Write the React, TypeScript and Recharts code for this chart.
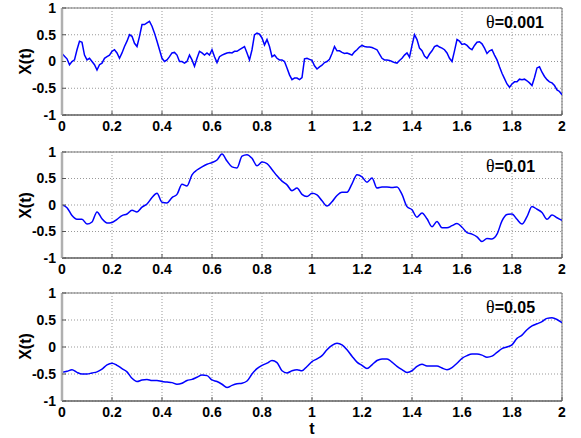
import React from 'react';
import { LineChart, Line, XAxis, YAxis, CartesianGrid, ReferenceArea, Label, Customized } from 'recharts';

// time ticks and value ticks shared by all three panels
const tTicks = [0, 0.2, 0.4, 0.6, 0.8, 1, 1.2, 1.4, 1.6, 1.8, 2];
const xTicks = [-1, -0.5, 0, 0.5, 1];
const thetaLabels = ['0.001', '0.01', '0.05'];

const path001 = [
  0.15, 0.1, 0.05, -0.06, 0, 0.03, 0.22, 0.38, 0.36, 0.12,
  0.03, 0.06, 0, -0.06, -0.16, -0.06, -0.03, 0.06, 0.09, 0.12,
  0.19, 0.22, 0.16, 0.06, 0.16, 0.28, 0.38, 0.5, 0.47, 0.34,
  0.28, 0.47, 0.69, 0.69, 0.72, 0.75, 0.66, 0.53, 0.38, 0.22,
  0.06, 0, 0.03, 0.09, 0.16, 0.17, 0.12, 0, 0, -0.03,
  0, 0.12, 0.03, -0.09, 0.06, 0.19, 0.16, 0.12, 0.16, 0.12,
  0.22, 0.09, -0.02, 0.09, 0.12, 0.14, 0.16, 0.17, 0.16, 0.19,
  0.19, 0.22, 0.25, 0.28, 0.16, 0.03, 0.22, 0.5, 0.53, 0.51,
  0.44, 0.31, 0.41, 0.28, 0.09, 0.12, 0.06, 0.03, 0.03, 0,
  -0.12, -0.25, -0.34, -0.31, -0.31, -0.34, -0.3, 0.05, 0.06, 0.04,
  0.02, -0.08, -0.14, -0.1, -0.07, -0.02, 0, 0.04, 0.15, 0.28,
  0.2, 0.2, 0.17, 0.15, 0.16, 0.14, 0.12, 0.18, 0.22, 0.27,
  0.3, 0.28, 0.27, 0.27, 0.26, 0.24, 0.22, 0.14, 0.06, 0.03,
  0.03, 0.02, 0, -0.02, -0.03, 0.02, 0.06, 0.12, 0.16, 0.08,
  0.3, 0.5, 0.41, 0.25, 0.2, 0.1, 0.06, 0.14, 0.2, 0.28,
  0.3, 0.27, 0.25, 0.22, 0.16, 0.06, 0, 0.2, 0.41, 0.38,
  0.32, 0.33, 0.3, 0.25, 0.22, 0.3, 0.36, 0.37, 0.33, 0.25,
  0.15, 0.2, 0.22, 0.12, 0.03, -0.1, -0.22, -0.32, -0.42, -0.48,
  -0.42, -0.38, -0.38, -0.33, -0.34, -0.33, -0.36, -0.4, -0.45, -0.3,
  -0.12, -0.1, -0.2, -0.28, -0.34, -0.38, -0.4, -0.45, -0.53, -0.56,
  -0.62,
];

// theta = 0.01, sampled every 0.02
const path01 = [
  0, -0.05, -0.2, -0.27, -0.27, -0.36, -0.32, -0.13, -0.26, -0.34,
  -0.33, -0.27, -0.2, -0.17, -0.1, -0.13, -0.04, 0.02, 0.14, 0.22,
  0.05, 0.04, 0.14, 0.2, 0.39, 0.36, 0.57, 0.66, 0.72, 0.77,
  0.8, 0.85, 0.96, 0.83, 0.72, 0.7, 0.92, 0.95, 0.88, 0.74,
  0.81, 0.78, 0.67, 0.55, 0.45, 0.38, 0.27, 0.32, 0.2, 0.16,
  0.22, 0.19, 0.08, -0.02, 0.06, 0.18, 0.24, 0.24, 0.4, 0.57,
  0.53, 0.43, 0.51, 0.32, 0.34, 0.34, 0.33, 0.34, 0.2, -0.03,
  -0.09, -0.23, -0.15, -0.26, -0.41, -0.31, -0.43, -0.43, -0.39, -0.35,
  -0.42, -0.52, -0.55, -0.6, -0.69, -0.63, -0.64, -0.55, -0.3, -0.18,
  -0.17, -0.27, -0.36, -0.22, -0.03, -0.08, -0.14, -0.27, -0.19, -0.24,
  -0.29,
];

// theta = 0.05, sampled every 0.02
const path05 = [
  -0.47, -0.45, -0.42, -0.47, -0.5, -0.5, -0.48, -0.46, -0.41, -0.33,
  -0.3, -0.34, -0.4, -0.46, -0.58, -0.64, -0.61, -0.6, -0.62, -0.62,
  -0.64, -0.65, -0.66, -0.69, -0.67, -0.62, -0.6, -0.56, -0.52, -0.53,
  -0.61, -0.64, -0.69, -0.75, -0.71, -0.68, -0.67, -0.63, -0.5, -0.4,
  -0.34, -0.3, -0.25, -0.29, -0.44, -0.48, -0.44, -0.42, -0.44, -0.36,
  -0.27, -0.22, -0.16, -0.05, 0.03, 0.07, 0.04, -0.05, -0.17, -0.28,
  -0.34, -0.4, -0.33, -0.25, -0.22, -0.22, -0.28, -0.36, -0.42, -0.47,
  -0.44, -0.36, -0.32, -0.35, -0.35, -0.35, -0.39, -0.42, -0.38, -0.3,
  -0.21, -0.16, -0.13, -0.13, -0.15, -0.19, -0.17, -0.1, -0.03, 0.0,
  0.04, 0.16, 0.22, 0.32, 0.39, 0.43, 0.47, 0.53, 0.54, 0.51,
  0.45,
];

const FONT = '"Liberation Sans", Arial, Helvetica, sans-serif';
const W = 581;
const PLOT_LEFT = 62;
const PLOT_H = 107;

const toRows = (vals: number[], step: number) =>
  vals.map((x, i) => ({ t: Math.round(i * step * 1000) / 1000, x }));

type PanelProps = {
  values: number[];
  step: number;
  theta: string;
  top: number;
  height: number;
  marginTop: number;
  xAxisHeight: number;
  smooth: boolean;
  showT?: boolean;
};

function Panel({ values, step, theta, top, height, marginTop, xAxisHeight, smooth, showT }: PanelProps) {
  const data = toRows(values, step);
  const tickStyle = { fill: '#000', fontSize: 14, fontWeight: 'bold', fontFamily: FONT };
  const midY = marginTop + PLOT_H / 2;

  return (
    <div style={{ position: 'absolute', left: 0, top, width: W, height }}>
      <LineChart width={W} height={height} data={data}
        margin={{ top: marginTop, right: 19, bottom: 0, left: 0 }}>
        <CartesianGrid stroke="#999" strokeDasharray="1 2" />
        <XAxis dataKey="t" type="number" domain={[0, 2]} ticks={tTicks} interval={0}
          allowDataOverflow height={xAxisHeight} tickSize={-4} tickMargin={10}
          axisLine={{ stroke: '#555' }} tickLine={{ stroke: '#555' }} tick={tickStyle}>
          {showT && (
            <Label value="t" position="insideBottom" offset={4}
              style={{ fill: '#000', fontSize: 16, fontWeight: 'bold', fontFamily: FONT }} />
          )}
        </XAxis>
        <YAxis type="number" domain={[-1, 1]} ticks={xTicks} interval={0} allowDataOverflow
          width={PLOT_LEFT} tickSize={-4} tickMargin={10}
          axisLine={{ stroke: '#b0b0b0', strokeWidth: 2.5 }} tickLine={{ stroke: '#555' }} tick={tickStyle}>
          <Label content={() => (
            <text x={25} y={midY} transform={`rotate(-90 25 ${midY})`} textAnchor="middle"
              dominantBaseline="central" fontSize={16} fontWeight="bold" fontFamily={FONT} fill="#000">
              X(t)
            </text>
          )} />
        </YAxis>
        <Line type={smooth ? 'monotone' : 'linear'} dataKey="x" stroke="#0000ff" strokeWidth={1.5}
          dot={false} isAnimationActive={false} />
        <ReferenceArea x1={0} x2={2} y1={-1} y2={1} fill="none" fillOpacity={0}
          stroke="#777" strokeWidth={1} ifOverflow="visible" />
        <Customized component={() => (
          <text x={486} y={marginTop + 20} fontFamily={FONT} fontSize={16} fill="#000">
            <tspan fontFamily='"Liberation Serif", "DejaVu Serif", serif' fontWeight="normal" fontSize={18}>θ</tspan>
            <tspan fontWeight="bold">={theta}</tspan>
          </text>
        )} />
      </LineChart>
    </div>
  );
}

export default function App() {
  return (
    <div style={{ position: 'absolute', left: 0, top: 0, width: W, height: 438, background: '#fff' }}>
      <Panel values={path001} step={0.01} theta={thetaLabels[0]} top={0} height={140}
        marginTop={8} xAxisHeight={25} smooth={false} />
      <Panel values={path01} step={0.02} theta={thetaLabels[1]} top={140} height={143}
        marginTop={12} xAxisHeight={25} smooth />
      <Panel values={path05} step={0.02} theta={thetaLabels[2]} top={283} height={155}
        marginTop={10} xAxisHeight={37} smooth showT />
    </div>
  );
}
